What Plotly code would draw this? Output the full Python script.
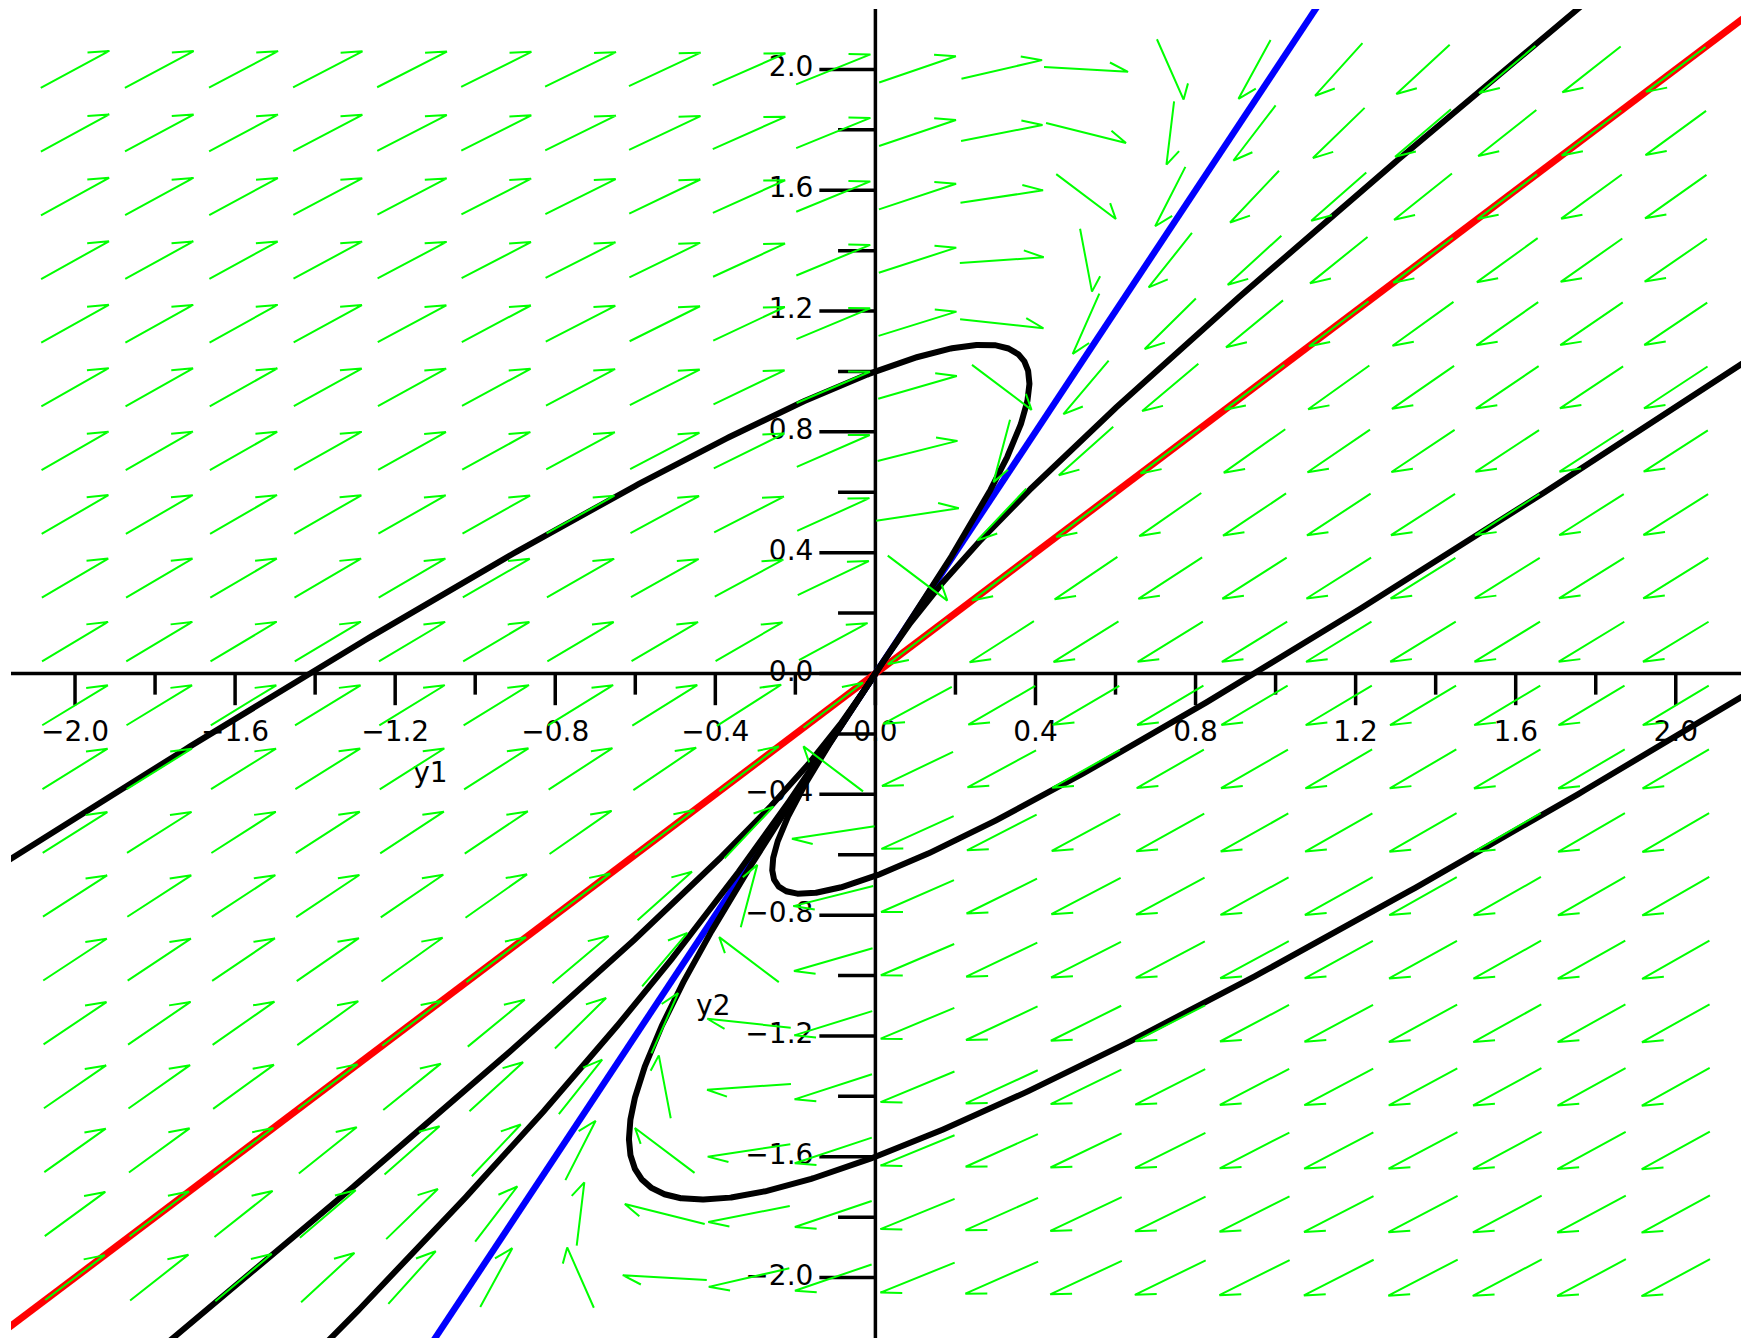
import numpy as np
import plotly.graph_objects as go

# ---- system:  y1' = a11*y1 + a12*y2 ,  y2' = a21*y1 + a22*y2
SYS_ROW1 = [-5.0, 2.0]
SYS_ROW2 = [-4.0, 1.0]

# ---- direction-field grid (20 x 20 from -2 to 2 in both variables)
GRID_MIN, GRID_MAX, GRID_N = -2.0, 2.0, 20

# ---- initial conditions of the drawn trajectories
RED_ICS = [(1.0, 1.0), (-1.0, -1.0)]
BLUE_ICS = [(1.0, 2.0), (-1.0, -2.0)]
BLACK_ICS = [(0.0, 1.0), (0.0, -0.67), (0.0, -1.6), (0.7, 1.0), (-0.7, -1.0), (-1.0, -1.7)]

# ---- axes
X_VIEW = [-2.16, 2.163]
Y_VIEW = [-2.2, 2.2]
MAJOR_TICKS = [-2.0, -1.6, -1.2, -0.8, -0.4, 0.0, 0.4, 0.8, 1.2, 1.6, 2.0]
MINOR_TICKS = [-1.8, -1.4, -1.0, -0.6, -0.2, 0.2, 0.6, 1.0, 1.4, 1.8]
TICK_LABELS = ["\u22122.0", "\u22121.6", "\u22121.2", "\u22120.8", "\u22120.4", "0.0",
               "0.4", "0.8", "1.2", "1.6", "2.0"]
AXIS_NAMES = ["y1", "y2"]

A = np.array([SYS_ROW1, SYS_ROW2])


def f(p):
    return A @ p


def rk4_path(p0, dt, tmax):
    pts = [np.array(p0, float)]
    p = np.array(p0, float)
    t = 0.0
    while abs(t) < tmax:
        k1 = f(p)
        k2 = f(p + 0.5 * dt * k1)
        k3 = f(p + 0.5 * dt * k2)
        k4 = f(p + dt * k3)
        p = p + dt / 6.0 * (k1 + 2 * k2 + 2 * k3 + k4)
        t += dt
        pts.append(p.copy())
        if abs(p[0]) > 3.0 or abs(p[1]) > 3.0:
            break
        if np.hypot(*p) < 1e-5:
            break
    return np.array(pts)


def trajectory(ic):
    back = rk4_path(ic, -0.002, 10.0)[::-1]
    fwd = rk4_path(ic, 0.002, 14.0)
    pts = np.vstack([back, fwd[1:]])
    return pts[:, 0], pts[:, 1]


fig = go.Figure()

# ---- axes and ticks
L_MAJ = 0.105
L_MIN = 0.07
ax_x, ax_y = [], []
ax_x += [X_VIEW[0], X_VIEW[1], None, 0, 0, None]
ax_y += [0, 0, None, Y_VIEW[0], Y_VIEW[1], None]
for v in MAJOR_TICKS:
    ax_x += [v, v, None]
    ax_y += [0, -L_MAJ, None]
    ax_x += [0, -L_MAJ * 4 / 3, None]
    ax_y += [v, v, None]
for v in MINOR_TICKS:
    ax_x += [v, v, None]
    ax_y += [0, -L_MIN, None]
    ax_x += [0, -L_MIN * 4 / 3, None]
    ax_y += [v, v, None]
fig.add_trace(go.Scatter(x=ax_x, y=ax_y, mode="lines",
                         line=dict(color="black", width=3.5), hoverinfo="skip"))

FONT = dict(family="DejaVu Sans", size=28, color="black")
fig.add_trace(go.Scatter(x=MAJOR_TICKS, y=[-0.2] * len(MAJOR_TICKS), mode="text",
                         text=TICK_LABELS, textposition="middle center",
                         textfont=FONT, hoverinfo="skip", cliponaxis=False))
fig.add_trace(go.Scatter(x=[-0.155] * len(MAJOR_TICKS), y=MAJOR_TICKS, mode="text",
                         text=TICK_LABELS, textposition="middle left",
                         textfont=FONT, hoverinfo="skip", cliponaxis=False))
fig.add_trace(go.Scatter(x=[-1.112, -0.405], y=[-0.337, -1.109], mode="text",
                         text=AXIS_NAMES, textposition="middle center",
                         textfont=FONT, hoverinfo="skip"))

# ---- trajectories
for ic in BLUE_ICS:
    x, y = trajectory(ic)
    fig.add_trace(go.Scatter(x=x, y=y, mode="lines", line=dict(color="#0000ff", width=6.5),
                             hoverinfo="skip"))
for ic in RED_ICS:
    x, y = trajectory(ic)
    fig.add_trace(go.Scatter(x=x, y=y, mode="lines", line=dict(color="#ff0000", width=7),
                             hoverinfo="skip"))
for ic in BLACK_ICS:
    x, y = trajectory(ic)
    fig.add_trace(go.Scatter(x=x, y=y, mode="lines", line=dict(color="black", width=6),
                             hoverinfo="skip"))

# ---- direction field (half arrows)
grid = np.linspace(GRID_MIN, GRID_MAX, GRID_N)
step = (GRID_MAX - GRID_MIN) / (GRID_N - 1)
c, s = np.cos(np.radians(-30)), np.sin(np.radians(-30))
arx, ary = [], []
for gx in grid:
    for gy in grid:
        v = f(np.array([gx, gy]))
        d = v / np.hypot(*v)
        tail = np.array([gx, gy]) - d * step / 2
        head = np.array([gx, gy]) + d * step / 2
        b = -d
        br = np.array([c * b[0] - s * b[1], s * b[0] + c * b[1]])
        barb = head + br * step * 0.26
        arx += [tail[0], head[0], barb[0], None]
        ary += [tail[1], head[1], barb[1], None]
fig.add_trace(go.Scatter(x=arx, y=ary, mode="lines",
                         line=dict(color="#00ff00", width=2), hoverinfo="skip"))

fig.update_layout(
    width=1747, height=1340, autosize=False,
    margin=dict(l=11, r=6, t=9, b=2),
    paper_bgcolor="white", plot_bgcolor="white",
    showlegend=False,
    xaxis=dict(range=X_VIEW, visible=False, showgrid=False, zeroline=False),
    yaxis=dict(range=Y_VIEW, visible=False, showgrid=False, zeroline=False),
)

fig.write_html("out.html", config={"displayModeBar": False},
               post_script="document.body.style.margin='0px';")
